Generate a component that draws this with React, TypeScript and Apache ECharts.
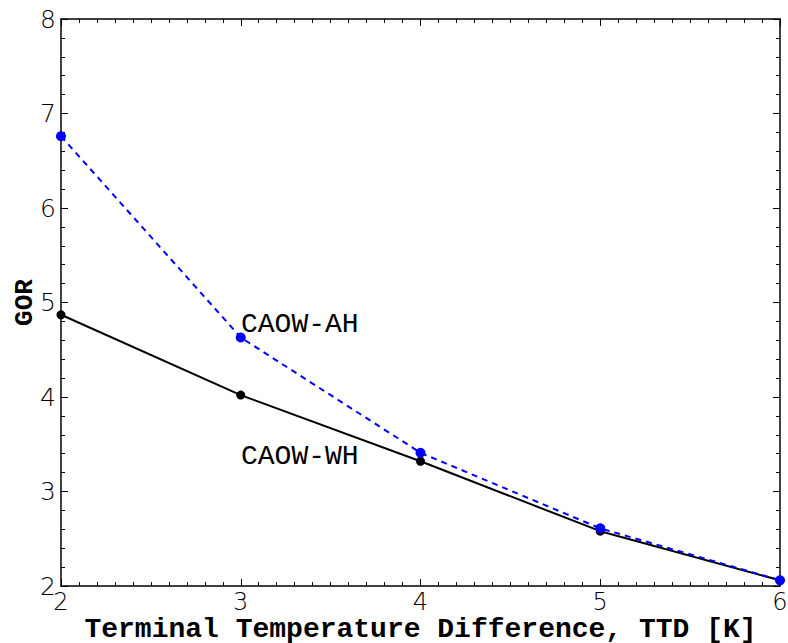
import React, { useEffect, useRef } from "react";
import * as echarts from "echarts";

const ttd = [2, 3, 4, 5, 6];
const gorWH = [4.87, 4.02, 3.32, 2.58, 2.06];
const gorAH = [6.76, 4.63, 3.41, 2.61, 2.06];
const xTitle = "Terminal Temperature Difference, TTD [K]";
const yTitle = "GOR";
const labelAH = "CAOW-AH";
const labelWH = "CAOW-WH";

const tickFont = "'DejaVu Sans', sans-serif";
const monoFont = "'Liberation Mono', 'DejaVu Sans Mono', monospace";

export default function App() {
  const ref = useRef<HTMLDivElement>(null);
  useEffect(() => {
    const chart = echarts.init(ref.current!, null, { renderer: "svg" });
    const axisLine = { show: true, lineStyle: { color: "#000", width: 1.5 } };
    const xCommon = {
      type: "value" as const,
      min: 2,
      max: 6,
      interval: 1,
      axisLine,
      axisTick: { show: true, inside: true, length: 7, lineStyle: { color: "#000", width: 1 } },
      minorTick: { show: true, splitNumber: 10, length: 4, lineStyle: { color: "#000", width: 1 } },
      splitLine: { show: false },
    };
    const yCommon = {
      type: "value" as const,
      min: 2,
      max: 8,
      interval: 1,
      axisLine,
      axisTick: { show: true, inside: true, length: 7, lineStyle: { color: "#000", width: 1 } },
      minorTick: { show: true, splitNumber: 5, length: 4, lineStyle: { color: "#000", width: 1 } },
      splitLine: { show: false },
    };
    chart.setOption({
      animation: false,
      backgroundColor: "#fff",
      grid: { left: 61, right: 8, top: 19, bottom: 57, containLabel: false, outerBoundsMode: "none" },
      xAxis: [
        {
          ...xCommon,
          position: "bottom",
          axisLabel: { show: true, margin: 6, fontSize: 24, lineHeight: 19, fontFamily: tickFont, fontWeight: 200, color: "#000" },
          name: xTitle,
          nameLocation: "middle",
          nameGap: 32,
          nameMoveOverlap: false,
          nameTextStyle: { fontFamily: monoFont, fontWeight: "bold", fontSize: 28, lineHeight: 22, color: "#000", verticalAlign: "top" },
        },
        { ...xCommon, position: "top", axisLabel: { show: false } },
      ],
      yAxis: [
        {
          ...yCommon,
          position: "left",
          axisLabel: { show: true, margin: 5, fontSize: 25, fontFamily: tickFont, fontWeight: 200, color: "#000" },
          name: yTitle,
          nameLocation: "middle",
          nameGap: 23,
          nameMoveOverlap: false,
          nameRotate: 90,
          nameTextStyle: { fontFamily: monoFont, fontWeight: "bold", fontSize: 26, color: "#000" },
        },
        { ...yCommon, position: "right", axisLabel: { show: false } },
      ],
      series: [
        {
          type: "line",
          name: labelWH,
          data: ttd.map((x, i) => [x, gorWH[i]]),
          symbol: "circle",
          symbolSize: 9,
          lineStyle: { color: "#000", width: 2, type: "solid" },
          itemStyle: { color: "#000" },
          z: 2,
        },
        {
          type: "line",
          name: labelAH,
          data: ttd.map((x, i) => [x, gorAH[i]]),
          symbol: "circle",
          symbolSize: 10,
          lineStyle: { color: "#0000ff", width: 2, type: [6, 5] },
          itemStyle: { color: "#0000ff" },
          z: 3,
        },
      ],
      graphic: [
        {
          type: "text",
          x: 241,
          y: 324,
          style: { text: labelAH, fontFamily: monoFont, fontSize: 28, fill: "#000", verticalAlign: "middle" },
        },
        {
          type: "text",
          x: 241,
          y: 456,
          style: { text: labelWH, fontFamily: monoFont, fontSize: 28, fill: "#000", verticalAlign: "middle" },
        },
      ],
    });
    return () => chart.dispose();
  }, []);
  return <div ref={ref} style={{ width: 788, height: 643, position: "absolute", left: 0, top: 0 }} />;
}
